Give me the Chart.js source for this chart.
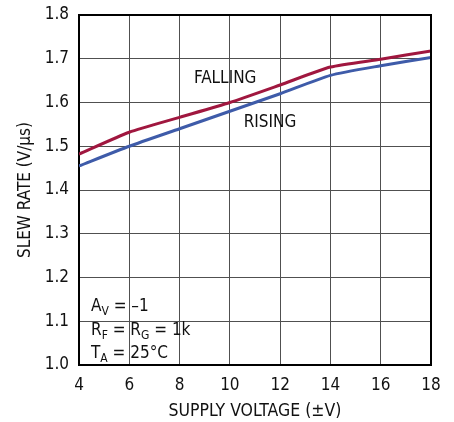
<!DOCTYPE html>
<html>
<head>
<meta charset="utf-8">
<script src="https://cdn.jsdelivr.net/npm/chart.js@4/dist/chart.umd.min.js"></script>
<style>
  html, body { margin: 0; padding: 0; background: #fff; }
  #wrap { width: 454px; height: 422px; }
</style>
</head>
<body>
<div id="wrap"><canvas id="slewChart" width="454" height="422"></canvas></div>
<script>
const supplyVoltage = [4, 6, 8, 10, 12, 14, 16, 18];
const fallingRate = [1.482, 1.532, 1.566, 1.600, 1.640, 1.681, 1.699, 1.718];
const risingRate = [1.455, 1.500, 1.540, 1.580, 1.620, 1.662, 1.684, 1.703];
const xTicks = [4, 6, 8, 10, 12, 14, 16, 18];
const yTicks = [1.0, 1.1, 1.2, 1.3, 1.4, 1.5, 1.6, 1.7, 1.8];

const FONT = '"DejaVu Sans Condensed", Roboto, sans-serif';
const gridColor = '#505050';

// frame + text labels drawn on the plot: curve names and test conditions
const notesPlugin = {
    id: 'notes',
    afterDatasetsDraw(chart) {
        const ctx = chart.ctx;
        const xs = chart.scales.x, ys = chart.scales.y;
        const a = chart.chartArea;
        ctx.save();
        ctx.strokeStyle = '#000';
        ctx.lineWidth = 2;
        ctx.beginPath();
        ctx.moveTo(a.left, a.top);
        ctx.lineTo(a.right, a.top);
        ctx.lineTo(a.right, a.bottom);
        ctx.stroke();

        ctx.fillStyle = '#111';
        ctx.textBaseline = 'middle';
        ctx.font = '17px ' + FONT;
        ctx.textAlign = 'left';
        ctx.fillText('FALLING', xs.getPixelForValue(8.57), ys.getPixelForValue(1.654));
        ctx.fillText('RISING', xs.getPixelForValue(10.55), ys.getPixelForValue(1.554));

        // conditions with subscripts
        const lines = [
            [['A', 0], ['V', 1], [' = \u20131', 0]],
            [['R', 0], ['F', 1], [' = R', 0], ['G', 1], [' = 1k', 0]],
            [['T', 0], ['A', 1], [' = 25\u00b0C', 0]]
        ];
        const x0 = xs.getPixelForValue(4) + 12;
        let y = 311;
        lines.forEach(parts => {
            let x = x0;
            ctx.textBaseline = 'alphabetic';
            parts.forEach(([txt, sub]) => {
                ctx.font = (sub ? '12px ' : '17px ') + FONT;
                ctx.fillText(txt, x, sub ? y + 4 : y);
                x += ctx.measureText(txt).width;
            });
            y += 23.5;
        });
        ctx.restore();
    }
};

const slewCtx = document.getElementById('slewChart').getContext('2d');
new Chart(slewCtx, {
    type: 'line',
    data: {
        datasets: [
            {
                label: 'FALLING',
                data: supplyVoltage.map((v, i) => ({ x: v, y: fallingRate[i] })),
                borderColor: '#a0173f',
                borderWidth: 3,
                pointRadius: 0,
                tension: 0.2
            },
            {
                label: 'RISING',
                data: supplyVoltage.map((v, i) => ({ x: v, y: risingRate[i] })),
                borderColor: '#3e5ba9',
                borderWidth: 3,
                pointRadius: 0,
                tension: 0.2
            }
        ]
    },
    options: {
        responsive: false,
        animation: false,
        layout: { padding: { top: 15, right: 23, left: 0, bottom: 0 } },
        plugins: {
            legend: { display: false },
            tooltip: { enabled: false }
        },
        scales: {
            x: {
                type: 'linear',
                min: 4,
                max: 18,
                afterBuildTicks: axis => { axis.ticks = xTicks.map(v => ({ value: v })); },
                afterFit: axis => { axis.height = 57; axis.paddingLeft = 0; axis.paddingRight = 0; },
                grid: { color: gridColor, lineWidth: 1, drawTicks: false },
                border: { color: '#000', width: 2 },
                ticks: {
                    color: '#111',
                    padding: 10,
                    font: { family: FONT, size: 17 }
                },
                title: {
                    display: true,
                    text: 'SUPPLY VOLTAGE (\u00b1V)',
                    color: '#111',
                    padding: { top: 3, bottom: 0 },
                    font: { family: FONT, size: 17.5 }
                }
            },
            y: {
                min: 1.0,
                max: 1.8,
                afterBuildTicks: axis => { axis.ticks = yTicks.map(v => ({ value: v })); },
                afterFit: axis => { axis.width = 79; axis.paddingTop = 0; axis.paddingBottom = 0; },
                grid: { color: gridColor, lineWidth: 1, drawTicks: false },
                border: { color: '#000', width: 2 },
                ticks: {
                    color: '#111',
                    padding: 10,
                    font: { family: FONT, size: 17 },
                    callback: v => v.toFixed(1)
                },
                title: {
                    display: true,
                    text: 'SLEW RATE (V/\u00b5s)',
                    color: '#111',
                    padding: { top: 15, bottom: 0 },
                    font: { family: FONT, size: 17 }
                }
            }
        }
    },
    plugins: [notesPlugin]
});
</script>
</body>
</html>
